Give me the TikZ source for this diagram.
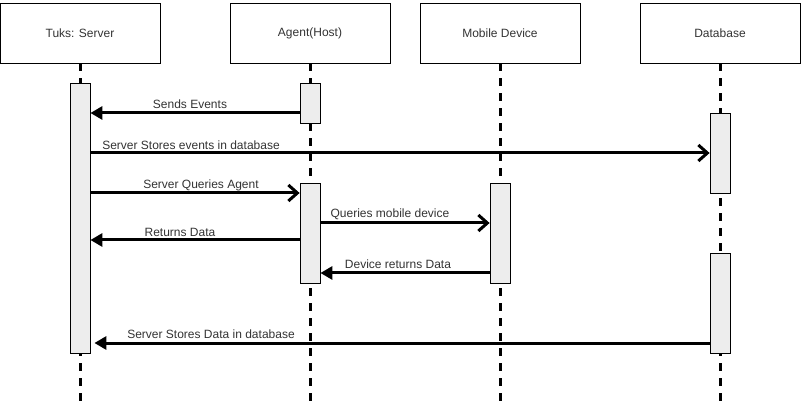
\documentclass[tikz,border=0pt]{standalone}
\usepackage{fontspec}
\setmainfont{Liberation Sans}
\usetikzlibrary{arrows.meta}
\begin{document}
\begin{tikzpicture}[x=1pt, y=-1pt]
	\tikzset{actor/.style = {draw, line width=0.8pt, minimum width=160pt, minimum height=60pt, text=black!80, font=\fontsize{12}{14}\selectfont},
		act/.style = {draw, fill=black!7, line width=0.8pt, minimum width=20pt, anchor=north, inner sep=0pt},
		life/.style = {line width=3pt, dash pattern=on 8pt off 7pt},
		call/.style = {line width=3pt, -{Straight Barb[length=9pt, width=16pt]}},
		ret/.style = {line width=3pt, -{Triangle[length=12pt, width=13pt]}},
		msg/.style = {text=black!80, font=\fontsize{12}{14}\selectfont}}
	\useasboundingbox (0,0) rectangle (801,406);
	\foreach \n/\x/\t in {srv/80/{Tuks: Server}, ag/310/Agent(Host), mob/500/Mobile Device, db/720/Database}{
		\node[actor] (\n) at (\x,33) {\t};
		\coordinate (\n end) at (\x,406);
		\draw[life] (\n.south) -- (\n end);
	}
	\node[act, minimum height=270pt] (srvA) at (80,83) {};
	\node[act, minimum height=40pt] (agA1) at (310,83) {};
	\node[act, minimum height=100pt] (agA2) at (310,183) {};
	\node[act, minimum height=100pt] (mobA) at (500,183) {};
	\node[act, minimum height=80pt] (dbA1) at (720,113) {};
	\node[act, minimum height=100pt] (dbA2) at (720,253) {};
	\foreach \k/\y in {1/113, 2/153, 3/193, 4/223, 5/240, 6/273, 7/343}{
		\coordinate (y\k) at (0,\y);
	}
	\draw[ret] (agA1.west |- y1) -- (srvA.east |- y1);
	\node[msg] (m1) at (190,104) {Sends Events};
	\draw[call] (srvA.east |- y2) -- (dbA1.west |- y2);
	\node[msg] (m2) at (191,145) {Server Stores events in database};
	\draw[call] (srvA.east |- y3) -- (agA2.west |- y3);
	\node[msg] (m3) at (201,185) {Server Queries Agent};
	\draw[call] (agA2.east |- y4) -- (mobA.west |- y4);
	\node[msg] (m4) at (390,214) {Queries mobile device};
	\draw[ret] (agA2.west |- y5) -- (srvA.east |- y5);
	\node[msg] (m5) at (180,232) {Returns Data};
	\draw[ret] (mobA.west |- y6) -- (agA2.east |- y6);
	\node[msg] (m6) at (398,264) {Device returns Data};
	\draw[ret, shorten >=4pt] (dbA2.west |- y7) -- (srvA.east |- y7);
	\node[msg] (m7) at (211,334) {Server Stores Data in database};
\end{tikzpicture}
\end{document}
